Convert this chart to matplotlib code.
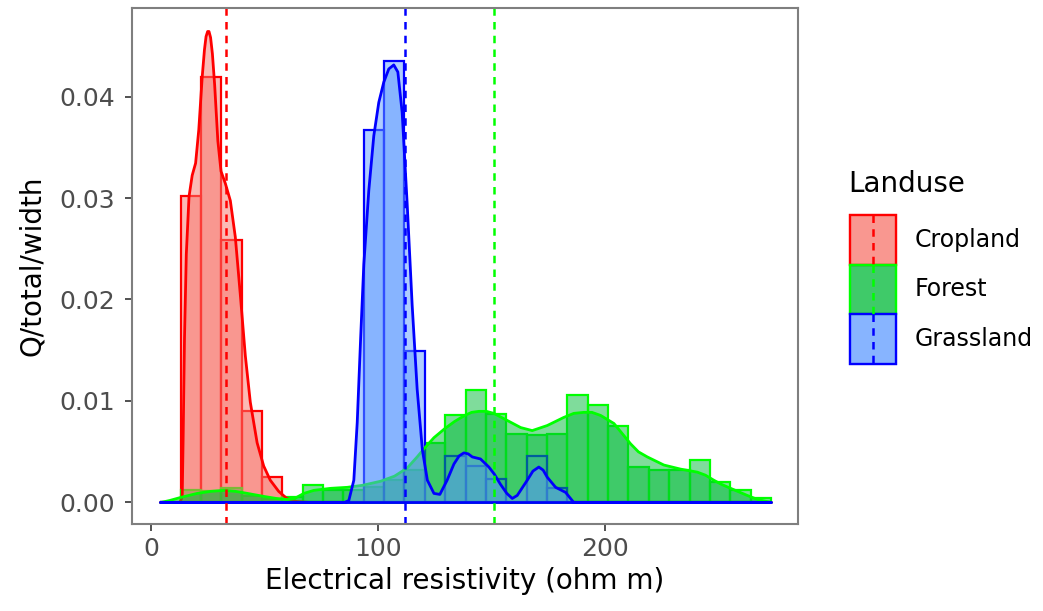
import matplotlib
matplotlib.use('Agg')
import matplotlib.pyplot as plt
import numpy as np
from matplotlib.patches import Rectangle
from matplotlib.lines import Line2D
from matplotlib.colors import to_rgba

# ---------------- data ----------------
landuse = ['Cropland', 'Forest', 'Grassland']
line_colors = ['#FF0000', '#00FF00', '#0000FF']
fill_colors = ['#F8766D', '#00BA38', '#619CFF']

# histogram: 30 bins
bin_start = 4.0
bin_width = 8.97

crop_hist = [0, 0.0302, 0.0420, 0.0259, 0.0090, 0.0025, 0, 0, 0, 0,
             0, 0, 0, 0, 0, 0, 0, 0, 0, 0,
             0, 0, 0, 0, 0, 0, 0, 0, 0, 0]
forest_hist = [0, 0.0012, 0.0011, 0.0014, 0.0006, 0.0003, 0.0005, 0.0017, 0.0012, 0.0012,
               0.0015, 0.0022, 0.0032, 0.0058, 0.0086, 0.0111, 0.0087, 0.0067, 0.0066, 0.0067,
               0.0106, 0.0096, 0.0075, 0.0035, 0.0032, 0.0032, 0.0041, 0.0020, 0.0012, 0.0004]
grass_hist = [0, 0, 0, 0, 0, 0, 0, 0, 0, 0,
              0.0367, 0.0435, 0.0149, 0, 0.0045, 0.0036, 0.0023, 0, 0.0045, 0.0014,
              0, 0, 0, 0, 0, 0, 0, 0, 0, 0]

# density curves
crop_x = [4, 12.5, 13.5, 13.9, 14.5, 15.3, 16.5, 17.9, 19.4, 20.8, 22.3, 23.3, 24.0, 24.7,
          25.3, 26.0, 26.8, 27.8, 29.2, 30.6, 32.5, 34.7, 36.9, 39.1, 41.3, 43.5, 46.5,
          49.4, 52.3, 56.0, 59.6, 64, 70, 273]
crop_y = [0, 0, 0.0006, 0.0062, 0.0162, 0.0245, 0.0302, 0.0323, 0.0335, 0.0368, 0.0420,
          0.0447, 0.0460, 0.0465, 0.0465, 0.0459, 0.0443, 0.0412, 0.0357, 0.0327, 0.0315,
          0.0298, 0.0262, 0.0205, 0.0145, 0.0099, 0.0059, 0.0036, 0.0022, 0.0011, 0.0004,
          0.0001, 0, 0]

forest_x = [4, 8, 12.8, 20.1, 26, 31.9, 37, 42.2, 49.5, 55, 59.8, 63, 67.1, 71.5, 78.9,
            86.2, 93, 100.9, 107, 112.6, 117, 120.0, 124.4, 129.2, 133.5, 138.0, 141,
            144.2, 147.5, 150.8, 156.7, 162.6, 167.7, 174.3, 181.6, 186, 190.4, 194,
            197.8, 203.7, 207, 211.0, 214.5, 218.4, 225.7, 233.0, 240.4, 244, 247.7,
            251, 255.1, 262.4, 267, 273]
forest_y = [0.0000, 0.0002, 0.0005, 0.0009, 0.0011, 0.0012, 0.0011, 0.0009, 0.0006,
            0.0004, 0.0003, 0.0004, 0.0009, 0.0012, 0.0014, 0.0015, 0.0017, 0.0021,
            0.0026, 0.0034, 0.0045, 0.0053, 0.0064, 0.0073, 0.0080, 0.0086, 0.0089,
            0.0090, 0.0090, 0.0088, 0.0081, 0.0074, 0.0071, 0.0076, 0.0084, 0.0088,
            0.0089, 0.0089, 0.0086, 0.0078, 0.0069, 0.0058, 0.0050, 0.0045, 0.0037,
            0.0033, 0.0030, 0.0027, 0.0022, 0.0018, 0.0014, 0.0007, 0.0003, 0.0000]

grass_x = [4, 85, 86.9, 89.1, 90.6, 92.1, 93.5, 95.7, 97.9, 100.1, 102.3, 104.5, 106.7,
           108.5, 110.4, 112.6, 114.8, 117.0, 119.3, 121.5, 124.4, 127.0, 130.2, 133.2,
           135.5, 137.6, 139.5, 141.3, 144.9, 148.6, 151, 153.7, 156.5, 158.9, 161.1,
           165.5, 168, 170.6, 172.5, 174.3, 178.0, 182.4, 186.0, 273]
grass_y = [0, 0, 0.0002, 0.0022, 0.0079, 0.0162, 0.0235, 0.0308, 0.0362, 0.0395, 0.0415,
           0.0428, 0.0432, 0.0425, 0.0385, 0.0295, 0.0195, 0.0112, 0.0052, 0.0022, 0.0009,
           0.0008, 0.0022, 0.0038, 0.0046, 0.0049, 0.0048, 0.0045, 0.0043, 0.0035, 0.0028,
           0.0018, 0.0009, 0.0004, 0.0007, 0.0022, 0.0031, 0.0035, 0.0032, 0.0025, 0.0015,
           0.0010, 0.0000, 0]

# mean lines (Cropland, Forest, Grassland)
means = [33.0, 151.1, 111.9]

hists = [crop_hist, forest_hist, grass_hist]
dens_x = [crop_x, forest_x, grass_x]
dens_y = [crop_y, forest_y, grass_y]

# ---------------- figure ----------------
W, H = 1043, 611
fig = plt.figure(figsize=(W / 100, H / 100), dpi=100)
ax = fig.add_axes([132 / W, 1 - 524 / H, (798 - 132) / W, (524 - 8) / H])

lefts = bin_start + bin_width * np.arange(30)

# histograms
for hist, lc, fc in zip(hists, line_colors, fill_colors):
    ax.bar(lefts, hist, width=bin_width, align='edge',
           facecolor=to_rgba(fc, 0.5), edgecolor=lc, linewidth=1.6)

# densities: filled polygon with full outline (baseline included)
for x, y, lc, fc in zip(dens_x, dens_y, line_colors, fill_colors):
    ax.fill_between(x, y, 0, facecolor=to_rgba(fc, 0.5), edgecolor=lc,
                    linewidth=2.0, joinstyle='round')

# mean lines
for m, lc in zip(means, line_colors):
    ax.axvline(m, color=lc, linewidth=1.8, linestyle=(0, (3, 2.5)))

ax.set_xlim(-8.4, 285.0)
ax.set_ylim(-0.00217, 0.04877)
ax.set_xticks([0, 100, 200])
ax.set_yticks([0, 0.01, 0.02, 0.03, 0.04])
ax.set_yticklabels(['%.2f' % v for v in [0, 0.01, 0.02, 0.03, 0.04]])
ax.tick_params(length=5, width=1.2, color='#333333', labelcolor='#4d4d4d',
               labelsize=18)
ax.tick_params(axis='x', pad=4)
ax.tick_params(axis='y', pad=7)
for s in ax.spines.values():
    s.set_color('#7f7f7f')
    s.set_linewidth(1.5)

ax.set_xlabel('Electrical resistivity (ohm m)', fontsize=20, labelpad=5)
ax.set_ylabel('Q/total/width', fontsize=20, labelpad=10)

# ---------------- legend (drawn by hand, ggplot style) ----------------
lax = fig.add_axes([0, 0, 1, 1])
lax.set_xlim(0, W)
lax.set_ylim(H, 0)
lax.axis('off')
lax.patch.set_alpha(0)

lax.text(848, 184, 'Landuse', fontsize=20, ha='left', va='center')
key_left, key_w, key_top, key_h = 850, 46, 215, 49.5
for i, (name, lc, fc) in enumerate(zip(landuse, line_colors, fill_colors)):
    y0 = key_top + i * key_h
    for _ in range(2):
        lax.add_patch(Rectangle((key_left, y0), key_w, key_h,
                                facecolor=to_rgba(fc, 0.5), edgecolor=lc, linewidth=1.6))
    lax.add_line(Line2D([key_left + key_w / 2] * 2, [y0, y0 + key_h], color=lc,
                        linewidth=1.8, linestyle=(0, (3, 2.5))))
    lax.text(915, y0 + key_h / 2, name, fontsize=17, ha='left', va='center')

plt.savefig('out.png', dpi=100, facecolor='white')
